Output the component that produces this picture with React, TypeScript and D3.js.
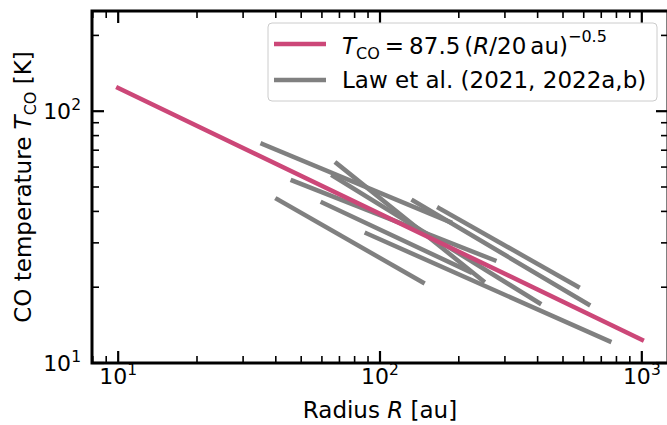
import React from 'react';
import * as d3 from 'd3';

const W = 667;
const H = 425;

// Axis limits (log scales)
const xLimits = [Math.pow(10, 0.9), Math.pow(10, 3.1)];
const yLimits = [10, 250];
const xMajorExps = [1, 2, 3];
const yMajorExps = [1, 2];

// Fit: T_CO = 87.5 (R / 20 au)^-0.5, plotted from 10 to 1000 au
const fitRange = [10, 1000];
const fitT0 = 87.5;
const fitR0 = 20;
const fitQ = 0.5;

// Law et al. (2021, 2022a,b) radial temperature profiles (inner/outer radius, temperature)
const lawRin = [35.6, 68.3, 66.2, 46.4, 60.4, 40.5, 89.0, 134.1, 168.1];
const lawTin = [74.1, 62.1, 55.3, 53.0, 43.3, 44.7, 32.7, 44.1, 41.2];
const lawRout = [185.1, 247.5, 406, 273.4, 220.8, 145.6, 751.6, 624.7, 569.2];
const lawTout = [36.3, 21.2, 17.3, 25.6, 23.0, 20.9, 12.2, 17.1, 20.1];

const PINK = '#cc4778';
const GRAY = '#808080';
const FONT = 'DejaVu Sans, sans-serif';

export default function App() {
  const left = 92, right = 668, top = 11, bottom = 363;
  const x = d3.scaleLog().domain(xLimits).range([left, right]);
  const y = d3.scaleLog().domain(yLimits).range([bottom, top]);

  const minorX: number[] = [];
  for (let e = 0; e <= 3; e++) for (let m = 2; m <= 9; m++) {
    const v = m * Math.pow(10, e);
    if (v >= xLimits[0] && v <= xLimits[1]) minorX.push(v);
  }
  const minorY: number[] = [];
  for (let e = 1; e <= 2; e++) for (let m = 2; m <= 9; m++) {
    const v = m * Math.pow(10, e);
    if (v >= yLimits[0] && v <= yLimits[1]) minorY.push(v);
  }

  const line = d3.line<[number, number]>().x(d => x(d[0])).y(d => y(d[1]));
  const fitPts: [number, number][] = fitRange.map(r => [r, fitT0 * Math.pow(r / fitR0, -fitQ)]);

  const majLen = 12, minLen = 7;
  const majW = 2.2, minW = 1.6;

  return (
    <svg width={W} height={H} style={{ position: 'absolute', left: 0, top: 0, display: 'block', background: '#fff' }}
      fontFamily={FONT}>
      <defs>
        <clipPath id="plotclip"><rect x={left} y={top} width={right - left} height={bottom - top} /></clipPath>
      </defs>
      <rect x={0} y={0} width={W} height={H} fill="#fff" />

      {/* data */}
      <g clipPath="url(#plotclip)">
        {lawRin.map((r, i) => (
          <path key={i} d={line([[r, lawTin[i]], [lawRout[i], lawTout[i]]]) || ''}
            stroke={GRAY} strokeWidth={4.5} fill="none" strokeLinecap="square" />
        ))}
        <path d={line(fitPts) || ''} stroke={PINK} strokeWidth={4.5} fill="none" strokeLinecap="square" />
      </g>

      {/* ticks x (bottom & top) */}
      {xMajorExps.map(e => {
        const px = x(Math.pow(10, e));
        return (
          <g key={'xM' + e}>
            <line x1={px} x2={px} y1={bottom} y2={bottom - majLen} stroke="#000" strokeWidth={majW} />
            <line x1={px} x2={px} y1={top} y2={top + majLen} stroke="#000" strokeWidth={majW} />
            <text x={px} y={bottom + 21} fontSize={22} textAnchor="middle">
              <tspan>10</tspan><tspan fontSize={15.5} dy={-9}>{e}</tspan>
            </text>
          </g>
        );
      })}
      {minorX.map(v => {
        const px = x(v);
        return (
          <g key={'xm' + v}>
            <line x1={px} x2={px} y1={bottom} y2={bottom - minLen} stroke="#000" strokeWidth={minW} />
            <line x1={px} x2={px} y1={top} y2={top + minLen} stroke="#000" strokeWidth={minW} />
          </g>
        );
      })}

      {/* ticks y (left & right) */}
      {yMajorExps.map(e => {
        const py = y(Math.pow(10, e));
        return (
          <g key={'yM' + e}>
            <line x1={left} x2={left + majLen} y1={py} y2={py} stroke="#000" strokeWidth={majW} />
            <line x1={right} x2={right - majLen} y1={py} y2={py} stroke="#000" strokeWidth={majW} />
            <text x={81} y={py + 8} fontSize={22} textAnchor="end">
              <tspan>10</tspan><tspan fontSize={15.5} dy={-9}>{e}</tspan>
            </text>
          </g>
        );
      })}
      {minorY.map(v => {
        const py = y(v);
        return (
          <g key={'ym' + v}>
            <line x1={left} x2={left + minLen} y1={py} y2={py} stroke="#000" strokeWidth={minW} />
            <line x1={right} x2={right - minLen} y1={py} y2={py} stroke="#000" strokeWidth={minW} />
          </g>
        );
      })}

      {/* spines */}
      <rect x={left} y={top} width={right - left} height={bottom - top} fill="none" stroke="#000" strokeWidth={3} />

      {/* axis labels */}
      <text x={(left + right) / 2} y={418} fontSize={23} textAnchor="middle">
        <tspan>Radius </tspan><tspan fontStyle="italic">R</tspan><tspan> [au]</tspan>
      </text>
      <text transform={`translate(31, ${(top + bottom) / 2}) rotate(-90)`} fontSize={23} textAnchor="middle">
        <tspan>CO temperature </tspan><tspan fontStyle="italic">T</tspan>
        <tspan fontSize={16} dy={5}>CO</tspan><tspan dy={-5}> [K]</tspan>
      </text>

      {/* legend */}
      <g>
        <rect x={268} y={23} width={389} height={78} rx={4} ry={4} fill="#fff" fillOpacity={0.8} stroke="#cccccc" strokeWidth={1} />
        <line x1={274} x2={326} y1={44} y2={44} stroke={PINK} strokeWidth={4.5} />
        <line x1={274} x2={326} y1={80} y2={80} stroke={GRAY} strokeWidth={4.5} />
        <text x={342} y={54} fontSize={23}>
          <tspan fontStyle="italic">T</tspan>
          <tspan fontSize={16} dy={5}>CO</tspan>
          <tspan dy={-5} dx={5}>=</tspan>
          <tspan dx={5}>87.5</tspan>
          <tspan dx={4}>(</tspan><tspan fontStyle="italic">R</tspan><tspan>/20</tspan>
          <tspan dx={4}>au)</tspan>
          <tspan fontSize={16} dy={-12}>−0.5</tspan>
        </text>
        <text x={342} y={88} fontSize={23}>Law et al. (2021, 2022a,b)</text>
      </g>
    </svg>
  );
}
